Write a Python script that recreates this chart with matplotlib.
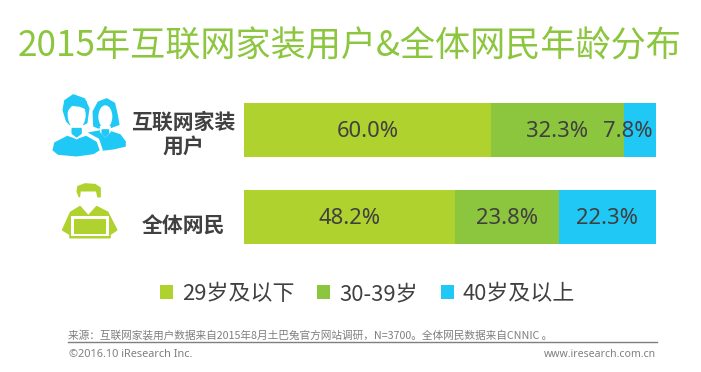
import matplotlib
matplotlib.use("Agg")
import matplotlib.pyplot as plt
from matplotlib.patches import Polygon, Ellipse, Rectangle

plt.rcParams['font.family'] = ['Noto Sans CJK SC', 'DejaVu Sans']

# data
groups = ['互联网家装\n用户', '全体网民']
ages = ['29岁及以下', '30-39岁', '40岁及以上']
young = [60.0, 48.2]
middle = [32.3, 23.8]
older = [7.8, 22.3]

c_young = '#B0D22F'
c_middle = '#8CC63E'
c_older = '#1FC8F5'
dark = '#404040'
grey = '#7F7F7F'

W, H = 701, 372
fig = plt.figure(figsize=(W / 100, H / 100), dpi=100, facecolor='white')

# full size axes in pixels, for the texts and the icons
bg = fig.add_axes([0, 0, 1, 1])
bg.set_xlim(0, W)
bg.set_ylim(H, 0)
bg.axis('off')

# stacked bars, every row goes to 100%
bar_h = 54 / 87
ax = fig.add_axes([244 / W, 1 - 244 / H, 412 / W, 141 / H])
ax.set_xlim(0, 100)
ax.set_ylim(1 + bar_h / 2, -bar_h / 2)
ax.axis('off')

pos = [0.0, 1.0]
left = [0.0, 0.0]
bars = []
for vals, col, name in zip([young, middle, older], [c_young, c_middle, c_older], ages):
    shares = [v / (a + b + c) * 100 for v, a, b, c in zip(vals, young, middle, older)]
    b = ax.barh(pos, shares, height=bar_h, left=left, color=col, label=name)
    bars.append(b)
    for i in range(2):
        xc = left[i] + shares[i] / 2
        if vals[i] == 7.8:
            xc -= 2.9  # this label sticks out of its segment in the original
        ax.text(xc, pos[i] + 0.02, '%.1f%%' % vals[i], ha='center', va='center',
                fontsize=15.8, color=dark, family='Noto Sans')
    left = [l + s for l, s in zip(left, shares)]

bg.text(350, 46.5, '2015年互联网家装用户&全体网民年龄分布', ha='center', va='center',
        fontsize=25.3, color=c_middle)

bg.text(183, 134, groups[0], ha='center', va='center', fontsize=15, fontweight='bold',
        color=dark, linespacing=1.15)
bg.text(183, 226, groups[1], ha='center', va='center', fontsize=15, fontweight='bold', color=dark)

fig.legend(handles=[b[0] for b in bars], labels=ages, loc='center', ncol=3,
           bbox_to_anchor=(367.5 / W, 1 - 294 / H), frameon=False, fontsize=15.8,
           labelcolor=dark, handlelength=0.6, handleheight=0.6, handletextpad=0.4,
           columnspacing=1.05, borderpad=0)

bg.plot([68, 657], [342, 342], color=grey, lw=1)
bg.text(68, 335, '来源\uff1a互联网家装用户数据来自2015年8月土巴兔官方网站调研\uff0cN=3700。全体网民数据来自CNNIC 。',
        ha='left', va='center', fontsize=7.7, color=grey)
bg.text(69, 354.5, '©2016.10 iResearch Inc.', ha='left', va='center', fontsize=7.9, color=grey, family='Noto Sans')
bg.text(656, 354.5, 'www.iresearch.com.cn', ha='right', va='center', fontsize=7.6, color=grey, family='Noto Sans')


def z(pts):
    # points measured on the 3x crop of the icons
    return [(30 + x / 3, 80 + y / 3) for x, y in pts]


def poly(pts, col):
    bg.add_patch(Polygon(z(pts), closed=True, facecolor=col, edgecolor=col, lw=1.2, joinstyle='round'))


# woman, behind
poly([(175, 160), (225, 150), (270, 165), (285, 185), (285, 198), (250, 206), (215, 210), (205, 180)], c_older)
poly([(192, 138), (190, 95), (205, 67), (230, 57), (253, 70), (260, 100), (266, 133), (240, 143), (205, 143)], c_older)
bg.add_patch(Ellipse(z([(226, 110)])[0], 42 / 3, 68 / 3, facecolor='white', edgecolor='none'))
poly([(212, 140), (240, 140), (240, 155), (226, 170), (212, 155)], 'white')
poly([(217, 150), (235, 150), (235, 160), (226, 170), (217, 160)], c_older)
# man, in front
poly([(172, 160), (205, 178), (216, 210), (200, 222), (140, 230), (80, 225), (66, 212), (72, 185), (108, 165)], 'white')
poly([(70, 210), (75, 189), (112, 170), (140, 180), (168, 170), (198, 187), (206, 210), (190, 220), (140, 227), (85, 222)], c_older)
poly([(110, 123), (100, 90), (105, 62), (130, 45), (163, 57), (176, 85), (170, 128), (160, 133), (120, 133)], c_older)
bg.add_patch(Ellipse(z([(140, 105)])[0], 54 / 3, 82 / 3, facecolor='white', edgecolor='none'))
poly([(122, 138), (158, 138), (158, 162), (140, 176), (122, 162)], 'white')
poly([(127, 146), (153, 146), (153, 160), (140, 170), (127, 160)], c_older)
poly([(112, 90), (125, 75), (150, 78), (168, 85), (168, 65), (130, 54), (110, 70)], c_older)

# person with laptop
poly([(142, 335), (144, 320), (165, 312), (195, 314), (210, 324), (210, 350), (204, 350), (200, 332), (150, 332), (148, 350)], c_young)
poly([(98, 450), (122, 397), (150, 380), (175, 408), (200, 380), (233, 397), (260, 450), (240, 463), (240, 473), (120, 473), (120, 463)], c_young)
bg.add_patch(Rectangle(z([(123, 408)])[0], 115 / 3, 60 / 3, facecolor='white', edgecolor='none'))
bg.add_patch(Rectangle(z([(133, 417)])[0], 95 / 3, 44 / 3, facecolor=c_young, edgecolor='none'))

fig.savefig('out.png', dpi=100)
